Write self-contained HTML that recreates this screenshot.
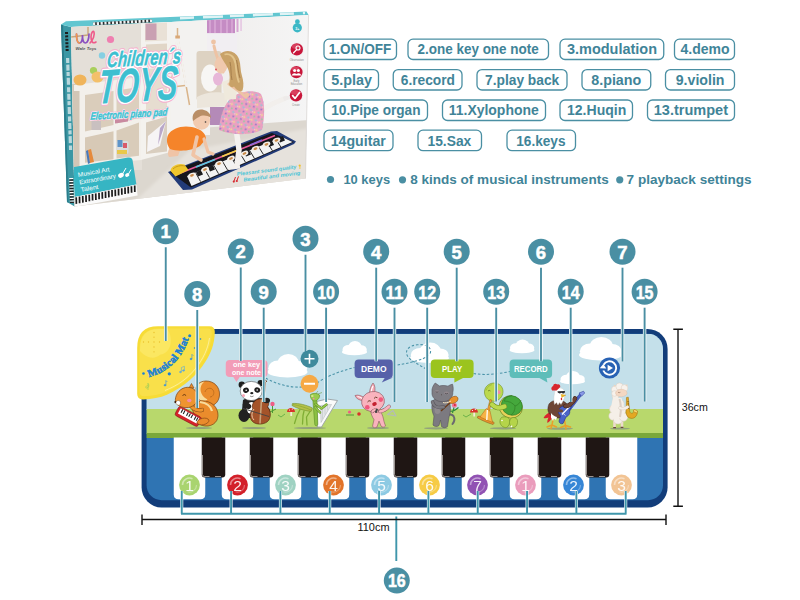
<!DOCTYPE html>
<html><head><meta charset="utf-8"><title>Piano mat</title>
<style>
html,body{margin:0;padding:0;background:#fff;}
body{width:800px;height:600px;overflow:hidden;font-family:"Liberation Sans",sans-serif;}
svg{display:block;position:absolute;left:0;top:0;}
text{font-family:"Liberation Sans",sans-serif;}
.lb{fill:#fff;stroke:#4a8fa3;stroke-width:1.3;}
.lt{fill:#3f8498;font-weight:bold;font-size:14px;}
.nc{fill:#4a8fa3;}
.nt{fill:#fff;stroke:#fff;stroke-width:.5;font-weight:bold;font-size:18.5px;text-anchor:middle;}
.ln{stroke:#4a8fa3;stroke-width:1.9;fill:none;}
.lw{stroke:#fff;stroke-width:3.4;fill:none;}
</style></head><body>
<svg width="800" height="600" viewBox="0 0 800 600">

<defs>
<clipPath id="fc"><polygon points="71,27 308.6,15 305.5,178.5 74.6,206.5"/></clipPath>
<filter id="b1" x="-5%" y="-5%" width="110%" height="110%"><feGaussianBlur stdDeviation="0.7"/></filter>
<filter id="b2" x="-5%" y="-5%" width="110%" height="110%"><feGaussianBlur stdDeviation="1.6"/></filter>
<linearGradient id="wallg" x1="0" x2="1" y1="0" y2="0"><stop offset="0" stop-color="#e9e4dd"/><stop offset=".55" stop-color="#efedec"/><stop offset="1" stop-color="#f6f6f6"/></linearGradient>
<pattern id="skirt" width="8" height="8" patternUnits="userSpaceOnUse" patternTransform="rotate(20)"><rect width="8" height="8" fill="#eba0c2"/><circle cx="1.5" cy="1.5" r="1.1" fill="#8fc6d8"/><circle cx="5.5" cy="2.5" r="1" fill="#f3e08a"/><circle cx="3" cy="5.5" r="1" fill="#9a78c8"/><circle cx="6.8" cy="6.5" r=".9" fill="#8fd09a"/><circle cx="3.6" cy="2.8" r=".7" fill="#f4c8dc"/></pattern>
</defs>
<polygon points="61,24.5 71,27 74.6,206.5 67,202" fill="#3b97a4"/>
<polygon points="61,24.5 63,25 68.6,203 67,202" fill="#2b7d8b"/>
<path d="M67.6 58L70.6 150" stroke="#cfe3e6" stroke-width="3.2" stroke-dasharray="5 1.6 6 1.4 4 1.8 7 2.4" opacity=".85"/>
<path d="M66.5 32L67.2 52" stroke="#1d1d1d" stroke-width="3" stroke-dasharray="2 1.4"/>
<path d="M71.2 178L71.9 203" stroke="#fff" stroke-width="4" stroke-dasharray="1.4 1.4"/><path d="M71.2 178L71.9 203" stroke="#222" stroke-width="4" stroke-dasharray="1.4 1.4" stroke-dashoffset="1.4"/>
<polygon points="61,24.5 66,21.3 306.5,11.5 308.6,15 71,27" fill="#62c6d0"/>
<path d="M93 23.8L152 20.8" stroke="#2a2a2a" stroke-width="2.8"/><path d="M93 23.8L152 20.8" stroke="#eef2f3" stroke-width="2.8" stroke-dasharray="2.2 1.6"/>
<path d="M180 18.2L305 13" stroke="#dff3f5" stroke-width="2.5" stroke-dasharray="14 9 20 7"/>
<g clip-path="url(#fc)">
<rect x="60" y="5" width="260" height="210" fill="url(#wallg)"/>
<polygon points="125,150 200,128 310,120 310,215 70,215 70,180" fill="#dcd7cf"/>
<polygon points="190,150 310,128 310,215 120,215" fill="#e6e2dc" filter="url(#b2)"/>
<rect x="70" y="20" width="72" height="150" fill="#e4dfd8"/>
<polygon points="70,84 80,84 80,168 70,170" fill="#d2c6b6"/>
<rect x="170" y="15" width="40" height="120" fill="#f3f2f0"/>
<g filter="url(#b1)">
<polygon points="141,22 170.5,20.5 170.5,152 141,160" fill="#f4f2ee"/>
<polygon points="74,85 141,77 141,160 79.5,166 79.5,91 74,91" fill="#f3f0eb"/>
<polygon points="145,23.5 167,22.5 167,40.5 145,41.5" fill="#e9e1d6"/>
<polygon points="146,44.5 167,43.5 167,63 146,64.5" fill="#e1d6c7"/>
<polygon points="146,69 167,67.5 167,112 146,116" fill="#e6ddd0"/>
<polygon points="146,122.5 167,116.5 167,151.5 146,154" fill="#d9cebf"/>
<polygon points="85,95 113.5,91 113.5,125 85,131.5" fill="#dacdbb"/>
<polygon points="116.5,90.5 139,87 139,118 116.5,123.5" fill="#dccfbe"/>
<polygon points="85,137.5 113.5,131.3 113.5,159.3 85,162.8" fill="#d7c9b6"/>
<polygon points="116.5,130.4 139,122.5 139,155.8 116.5,158.4" fill="#d9ccba"/>
</g>
<rect x="145.5" y="23.5" width="11" height="16.5" fill="#c9a0b2"/>
<polygon points="148,136 166,121 160,146 147,152" fill="#f6f4f5"/><polygon points="160,128 166,121 158,145" fill="#b9a7c9"/>
<rect x="116.5" y="141" width="12" height="13" rx="2" fill="#d9dcde"/><rect x="117.5" y="140" width="5" height="7" fill="#5f94c8"/><rect x="117" y="150" width="10" height="4" fill="#e8c84a"/><rect x="123" y="143" width="4" height="5" fill="#d85a6a"/>
<polygon points="88,150 91,149 94,162 90,163" fill="#e58a3c"/><polygon points="86,151 88,150 90,163 88,164" fill="#4a78b8"/>
<rect x="91.5" y="121" width="9.5" height="9" fill="#c9c0c0"/><polygon points="115,119.5 128,117.5 128,121.5 115,123.5" fill="#c98aa0"/>
<circle cx="110.5" cy="39.5" r="3.6" fill="#ef7fb0"/><circle cx="102" cy="55.5" r="3.2" fill="#86cfe2"/><circle cx="93.5" cy="70.5" r="3.6" fill="#a9cf5c"/>
<ellipse cx="80" cy="80" rx="6.5" ry="5.5" fill="#f0b45a"/><ellipse cx="97.5" cy="77" rx="6" ry="5.5" fill="#f3c06a"/>
<path d="M71 37l17-2" stroke="#c9a57a" stroke-width="1.6"/><path d="M88 27l0 8" stroke="#c9a57a" stroke-width="1.4"/>
<path d="M177.5 28v9M177.5 37l-9 60M177.5 37l12 68M172 87l13-1.5" stroke="#d9b48a" stroke-width="1.5" fill="none"/><path d="M177.5 37l-9 50M177.5 37l9 50" stroke="#f3f1ee" stroke-width="2.2" fill="none"/><rect x="175.3" y="35.5" width="4.6" height="3" fill="#d9a877"/>
<rect x="207" y="18" width="28" height="15.5" fill="#c58cc4"/><path d="M210 18v15M215 18v15M221 18v15M227 18v15M232 18v15" stroke="#d9a9d6" stroke-width="1.6"/><rect x="236.5" y="18" width="2" height="14" fill="#d8a6d4"/><rect x="240.3" y="18" width="1.5" height="13" fill="#e4c4e2"/>
<rect x="207" y="33" width="30" height="30" fill="#f1eef2" opacity=".8"/>
<g filter="url(#b1)">
<rect x="196.5" y="51" width="25" height="50" rx="3" fill="#ddd2c2"/>
<ellipse cx="210" cy="78" rx="9" ry="13.5" fill="#f7f6f4"/>
<ellipse cx="218" cy="79" rx="5" ry="6.5" fill="#e7b7d8"/>
<path d="M197 97c8-5 22-6 30-3l0 12-30 2z" fill="#ece6dc"/>
<rect x="210" y="107" width="22" height="18" fill="#b48ab8"/>
</g>
<g filter="url(#b1)">
<polygon points="168,172 271,131.5 277,131 296,141.5 294,144 192,189.5 183,190" fill="#223a78"/>
<polygon points="170,172 272,133 294,142 191,187.5" fill="#15161c"/>
<polygon points="187,176 282,137 292.5,142 191.5,186" fill="#f3f3f3"/>
<path d="M195.5 172.5l5 9M204.5 168.8l5 8.8M213.5 165l5 8.7M222.5 161.4l5 8.5M231.5 157.7l5 8.4M240.5 154l5 8.3M249.5 150.3l5 8.2M258.5 146.6l5 8M267.5 143l5 7.8M276 139.5l5 7.7" stroke="#2a2a2a" stroke-width="1" fill="none"/>
<g fill="#1a1a1f"><polygon points="196,172 201,170 203,174.5 198,176.5"/><polygon points="208,167 213,165 215,169.5 210,171.5"/><polygon points="232,157 237,155 239,159.5 234,161.5"/><polygon points="244,152 249,150 251,154.5 246,156.5"/><polygon points="267,142.5 272,140.5 274,145 269,147"/><polygon points="278,138 283,136 285,140.5 280,142.5"/></g>
<path d="M178 174L275 135.5" stroke="#e85a9a" stroke-width="1.6"/><path d="M196 167L215 159.5" stroke="#58c8e0" stroke-width="1.8"/><path d="M222 156.5L238 150" stroke="#f2d34a" stroke-width="1.8"/><path d="M250 145L262 140.2" stroke="#8a6ad8" stroke-width="1.8"/>
<ellipse cx="192" cy="175.3" rx="4" ry="2.5" fill="#f4efe8" transform="rotate(-21 192 175.3)"/><ellipse cx="192" cy="175.3" rx="2" ry="1.2" fill="#c98a4a" transform="rotate(-21 192 175.3)"/>
<ellipse cx="205" cy="169.5" rx="4" ry="2.5" fill="#f4efe8" transform="rotate(-21 205 169.5)"/><ellipse cx="205" cy="169.5" rx="2" ry="1.2" fill="#c98a4a" transform="rotate(-21 205 169.5)"/>
<ellipse cx="219" cy="163.6" rx="4" ry="2.5" fill="#f4efe8" transform="rotate(-21 219 163.6)"/><ellipse cx="219" cy="163.6" rx="2" ry="1.2" fill="#c98a4a" transform="rotate(-21 219 163.6)"/>
<ellipse cx="231" cy="158.5" rx="4" ry="2.5" fill="#f4efe8" transform="rotate(-21 231 158.5)"/><ellipse cx="231" cy="158.5" rx="2" ry="1.2" fill="#c98a4a" transform="rotate(-21 231 158.5)"/>
<ellipse cx="244.5" cy="153.5" rx="4" ry="2.5" fill="#f4efe8" transform="rotate(-21 244.5 153.5)"/><ellipse cx="244.5" cy="153.5" rx="2" ry="1.2" fill="#c98a4a" transform="rotate(-21 244.5 153.5)"/>
<ellipse cx="255.5" cy="148.7" rx="4" ry="2.5" fill="#f4efe8" transform="rotate(-21 255.5 148.7)"/><ellipse cx="255.5" cy="148.7" rx="2" ry="1.2" fill="#c98a4a" transform="rotate(-21 255.5 148.7)"/>
<ellipse cx="266.5" cy="144.3" rx="4" ry="2.5" fill="#f4efe8" transform="rotate(-21 266.5 144.3)"/><ellipse cx="266.5" cy="144.3" rx="2" ry="1.2" fill="#c98a4a" transform="rotate(-21 266.5 144.3)"/>
<ellipse cx="276.5" cy="140.3" rx="4" ry="2.5" fill="#f4efe8" transform="rotate(-21 276.5 140.3)"/><ellipse cx="276.5" cy="140.3" rx="2" ry="1.2" fill="#c98a4a" transform="rotate(-21 276.5 140.3)"/>
<path d="M170.5 171c0-5 8-8.5 14-6.5l4 5.5-13 6.5z" fill="#efc62f"/><path d="M173 169c3-3 8-4 12-3" stroke="#c99a18" stroke-width="1" fill="none"/>
</g>
<g filter="url(#b1)">
<path d="M236 128l3 22-2 15" stroke="#f4f1ee" stroke-width="5.5" fill="none" stroke-linecap="round" stroke-linejoin="round"/>
<path d="M229 167.5c3-2.5 8-3 11-2l0 3-11 1.5z" fill="#f4f1ee"/>
<path d="M252 115l22-12 12-5" stroke="#f2efec" stroke-width="5" fill="none" stroke-linecap="round"/><path d="M283 97c4-2 8-1 10 1l-9 3z" fill="#eeebea"/>
<path d="M232 97c8-6 22-8 29-3 4 8 4 22 1 36-13 6-32 5-43 0 1-14 5-26 13-33z" fill="url(#skirt)"/>
<path d="M222 82l8-3 7 8-1 12-11 1z" fill="#efe9dc"/>
<path d="M223 72c-3-8-7-16-9-26" stroke="#eec3a4" stroke-width="3" fill="none" stroke-linecap="round"/><circle cx="213.5" cy="42" r="2.4" fill="#eec3a4"/>
<path d="M229 84c6 4 12 9 17 13" stroke="#eec3a4" stroke-width="3" fill="none" stroke-linecap="round"/><circle cx="247" cy="95" r="2.3" fill="#eec3a4"/>
<ellipse cx="221" cy="65" rx="6.5" ry="8.5" fill="#f0c9ae"/>
<path d="M220 54c6-5.500 16-3.500 19 5 2 6 1 11 3 17 1.500 5 2 10 .500 14.500-3 2-6.500-.500-8.500-4-1.500 1.500-4 .500-5-2 1-5 1-10-.500-14.500-1.500-5-6-9-8.500-16z" fill="#c9a268"/>
<path d="M224.500 54.500c5-1.500 10 2 11 9 .800 7 1 13 3.500 19" stroke="#e2c48c" stroke-width="1.800" fill="none"/>
<path d="M230 62c1.500 6 .500 12 2 18M236.500 60c1.500 6 1.500 12 3.500 18" stroke="#a67f4c" stroke-width="1" fill="none"/>
<circle cx="216" cy="69.5" r=".9" fill="#d44a5a"/>
</g>
<g filter="url(#b1)">
<path d="M171 146c-3 4-4 8-2 11l9-1 3-8z" fill="#f0c4a6"/>
<path d="M168 135c5-8 18-11 30-6 5 2 8 6 8 10l-6 7c-8 5-22 6-30 3-3-4-4-9-2-14z" fill="#f5842a"/>
<path d="M197 137l-4 18 8 5" stroke="#f0c4a6" stroke-width="3.6" fill="none" stroke-linecap="round" stroke-linejoin="round"/>
<path d="M204 139l4 13 5 2" stroke="#f0c4a6" stroke-width="3.2" fill="none" stroke-linecap="round" stroke-linejoin="round"/>
<ellipse cx="201.5" cy="120.5" rx="8.6" ry="9.2" fill="#f2cbb0"/>
<path d="M193 121c-2-8 4-13 11-11 4 1 7 4 7 8-4-3-9-3-12-1-3 1-4 3-6 4z" fill="#b98e66"/>
<circle cx="205.5" cy="122" r=".8" fill="#333"/>
</g>
<path d="M73 167.3L128 157.6Q132 157 132.6 160.5L136.4 184.6L74.6 197Z" fill="#36b5c3"/>
<polygon points="74.6,197 136.4,184.6 137.6,195.5 74.8,207" fill="#fafafa"/>
<path d="M76.2 197.3L76.4 203.9M79.5 196.6L79.6 203.2M82.7 196.0L82.9 202.6M86.0 195.3L86.1 201.9M89.2 194.7L89.4 201.3M92.5 194.0L92.6 200.6M95.7 193.4L95.9 200.0M99.0 192.7L99.1 199.3M102.2 192.1L102.4 198.7M105.5 191.4L105.6 198.0M108.7 190.8L108.9 197.4M112.0 190.1L112.1 196.7M115.2 189.5L115.4 196.1M118.5 188.8L118.6 195.4M121.7 188.2L121.9 194.8M125.0 187.5L125.1 194.1M128.2 186.8L128.3 193.4M131.4 186.2L131.6 192.8M134.7 185.5L134.8 192.1" stroke="#1c1c1c" stroke-width="1.75"/>
<g transform="rotate(-10 78 175)" fill="#fff" font-size="6.3" style="font-family:'Liberation Sans'"><text x="78" y="177" textLength="32" lengthAdjust="spacingAndGlyphs">Musical Art</text><text x="78" y="184.6" textLength="37" lengthAdjust="spacingAndGlyphs">Extraordinary</text><text x="78" y="192.2" textLength="18" lengthAdjust="spacingAndGlyphs">Talent</text></g>
<g fill="#fff"><ellipse cx="121" cy="175.3" rx="3" ry="2.3" transform="rotate(-30 121 175.3)"/><ellipse cx="127.2" cy="175" rx="2.2" ry="1.8" transform="rotate(-30 127.2 175)"/><path d="M122.5 174l3.5-6M128.5 174l2.5-4.5" stroke="#fff" stroke-width="1"/></g>
<g transform="rotate(-3.2 140 60) translate(140 85) skewX(-8) translate(-140 -85)" style="font-family:'Liberation Sans'" font-style="italic" font-weight="bold" text-anchor="middle">
<g fill="#f5b3cf" stroke="#f5b3cf" stroke-width="5.4" stroke-linejoin="round">
<text x="140.5" y="65.5" font-size="21.5" textLength="74" lengthAdjust="spacingAndGlyphs">Children&#180;s</text>
<text x="137" y="101" font-size="47.5" textLength="79" lengthAdjust="spacingAndGlyphs">TOYS</text>
</g>
<g fill="#fff" stroke="#fff" stroke-width="3.2" stroke-linejoin="round">
<text x="140.5" y="65.5" font-size="21.5" textLength="74" lengthAdjust="spacingAndGlyphs">Children&#180;s</text>
<text x="137" y="101" font-size="47.5" textLength="79" lengthAdjust="spacingAndGlyphs">TOYS</text>
</g>
<g fill="#3ebfd0" stroke="#3ebfd0" stroke-width=".5">
<text x="140.5" y="65.5" font-size="21.5" textLength="74" lengthAdjust="spacingAndGlyphs">Children&#180;s</text>
<text x="137" y="101" font-size="47.5" textLength="79" lengthAdjust="spacingAndGlyphs">TOYS</text>
</g>
<text fill="#f5b3cf" stroke="#f5b3cf" stroke-width="2.6" stroke-linejoin="round" x="130" y="117" font-size="10.5" textLength="77" lengthAdjust="spacingAndGlyphs">Electronic piano pad</text>
<text fill="#fff" stroke="#fff" stroke-width="1.4" stroke-linejoin="round" x="130" y="117" font-size="10.5" textLength="77" lengthAdjust="spacingAndGlyphs">Electronic piano pad</text>
<text fill="#3ebfd0" stroke="#3ebfd0" stroke-width=".5" x="130" y="117" font-size="10.5" textLength="77" lengthAdjust="spacingAndGlyphs">Electronic piano pad</text>
</g>
<g transform="rotate(-7 268 173)" font-style="italic" font-weight="bold" fill="#49c4d6" font-size="5.2"><text x="237" y="172" textLength="60" lengthAdjust="spacingAndGlyphs">Pleasant sound quality</text><text x="243" y="178.5" textLength="57" lengthAdjust="spacingAndGlyphs">Beautiful and moving</text></g>
<path d="M234 181l1.5-4M237 180.4l1.5-4" stroke="#d8262d" stroke-width="1"/><circle cx="233.8" cy="181.6" r="1.1" fill="#d8262d"/><circle cx="236.8" cy="181" r="1.1" fill="#d8262d"/><circle cx="299.7" cy="165.5" r="1.1" fill="#f0c02a"/><path d="M299.9 166v3" stroke="#f0c02a" stroke-width=".8"/>
<path d="M76.5 34c0 6 1 9 3 9s3-4 3-8c0 5 1 8 3 8s3.5-4 3.5-9" stroke="#8a4fc0" stroke-width="1.7" fill="none" stroke-linecap="round"/><path d="M90 43c3-3 5-8 4-11-1-2-3 1-3 5 0 5 2 7 5 5" stroke="#ef5a8a" stroke-width="1.6" fill="none" stroke-linecap="round"/><path d="M76.5 34c0 6 1 9 3 9" stroke="#f2994a" stroke-width="1.7" fill="none" stroke-linecap="round"/>
<text x="75.5" y="50.3" font-size="3.6" font-style="italic" font-weight="bold" fill="#555" textLength="21" lengthAdjust="spacingAndGlyphs">Wale Toys</text>
<circle cx="297.3" cy="27.8" r="4.6" fill="#3cb8c6"/><circle cx="297.4" cy="21.7" r="2.4" fill="#3cb8c6"/><text x="297.3" y="30" font-size="3.6" fill="#fff" text-anchor="middle" font-weight="bold">3+</text>
<circle cx="296.8" cy="49.4" r="7.1" fill="#f1eef0"/><circle cx="296.8" cy="49.4" r="6.2" fill="#c8163a"/><ellipse cx="295.8" cy="46.4" rx="4" ry="2.4" fill="#e8657c" opacity=".55"/>
<circle cx="296.4" cy="72.1" r="7.1" fill="#f1eef0"/><circle cx="296.4" cy="72.1" r="6.2" fill="#c8163a"/><ellipse cx="295.4" cy="69.1" rx="4" ry="2.4" fill="#e8657c" opacity=".55"/>
<circle cx="296.0" cy="95.4" r="7.1" fill="#f1eef0"/><circle cx="296.0" cy="95.4" r="6.2" fill="#c8163a"/><ellipse cx="295.0" cy="92.4" rx="4" ry="2.4" fill="#e8657c" opacity=".55"/>
<circle cx="298" cy="48" r="2" fill="none" stroke="#fff" stroke-width="1.1"/><path d="M296.6 49.6l-3 3.2" stroke="#fff" stroke-width="1.3" stroke-linecap="round"/>
<circle cx="294.6" cy="70.6" r="1.5" fill="#fff"/><circle cx="298.4" cy="70.6" r="1.5" fill="#fff"/><path d="M292 75.5c0-3 5-3 5 0zM296 75.5c0-3 5-3 5 0z" fill="#fff"/>
<path d="M292.6 95.6l2.4 2.8 4.6-6" stroke="#fff" stroke-width="1.7" fill="none" stroke-linecap="round" stroke-linejoin="round"/>
<g fill="#8a8a8a" font-size="2.6" text-anchor="middle"><text x="296.7" y="60.6">Observation</text><text x="296.4" y="82.4">Early</text><text x="296.4" y="85.4">Education</text><text x="295.9" y="106">Create</text></g>
</g>
<path d="M308.6 15L305.5 178.5" stroke="#d9d6d3" stroke-width=".8"/>
<rect class="lb" x="324" y="39.2" width="72.5" height="20.299999999999997" rx="5"/>
<text class="lt" x="328.75" y="54.45" textLength="62.5" lengthAdjust="spacingAndGlyphs">1.ON/OFF</text>
<rect class="lb" x="408" y="39.2" width="140.5" height="20.299999999999997" rx="5"/>
<text class="lt" x="417.5" y="54.45" textLength="121.25" lengthAdjust="spacingAndGlyphs">2.one key one note</text>
<rect class="lb" x="560" y="39.2" width="103.75" height="20.299999999999997" rx="5"/>
<text class="lt" x="567" y="54.45" textLength="90" lengthAdjust="spacingAndGlyphs">3.modulation</text>
<rect class="lb" x="674.5" y="39.2" width="60.0" height="20.299999999999997" rx="5"/>
<text class="lt" x="680.5" y="54.45" textLength="49.0" lengthAdjust="spacingAndGlyphs">4.demo</text>
<rect class="lb" x="324" y="69.6" width="54.5" height="20.400000000000006" rx="5"/>
<text class="lt" x="331.25" y="84.89999999999999" textLength="40.75" lengthAdjust="spacingAndGlyphs">5.play</text>
<rect class="lb" x="393.25" y="69.6" width="68.75" height="20.400000000000006" rx="5"/>
<text class="lt" x="400.75" y="84.89999999999999" textLength="54.25" lengthAdjust="spacingAndGlyphs">6.record</text>
<rect class="lb" x="477" y="69.6" width="90" height="20.400000000000006" rx="5"/>
<text class="lt" x="485" y="84.89999999999999" textLength="74.25" lengthAdjust="spacingAndGlyphs">7.play back</text>
<rect class="lb" x="582" y="69.6" width="68.75" height="20.400000000000006" rx="5"/>
<text class="lt" x="591.25" y="84.89999999999999" textLength="50.0" lengthAdjust="spacingAndGlyphs">8.piano</text>
<rect class="lb" x="665.5" y="69.6" width="69.0" height="20.400000000000006" rx="5"/>
<text class="lt" x="675.75" y="84.89999999999999" textLength="48.75" lengthAdjust="spacingAndGlyphs">9.violin</text>
<rect class="lb" x="324" y="100" width="103.5" height="20.5" rx="5"/>
<text class="lt" x="331.25" y="115.35" textLength="89.25" lengthAdjust="spacingAndGlyphs">10.Pipe organ</text>
<rect class="lb" x="442.5" y="100" width="103.0" height="20.5" rx="5"/>
<text class="lt" x="448.75" y="115.35" textLength="90.0" lengthAdjust="spacingAndGlyphs">11.Xylophone</text>
<rect class="lb" x="560" y="100" width="72.5" height="20.5" rx="5"/>
<text class="lt" x="567" y="115.35" textLength="59.25" lengthAdjust="spacingAndGlyphs">12.Huqin</text>
<rect class="lb" x="647.5" y="100" width="87.0" height="20.5" rx="5"/>
<text class="lt" x="653.75" y="115.35" textLength="74.25" lengthAdjust="spacingAndGlyphs">13.trumpet</text>
<rect class="lb" x="324" y="130.2" width="69" height="20.5" rx="5"/>
<text class="lt" x="330.75" y="145.54999999999998" textLength="55.0" lengthAdjust="spacingAndGlyphs">14guitar</text>
<rect class="lb" x="418" y="130.2" width="63.5" height="20.5" rx="5"/>
<text class="lt" x="427.5" y="145.54999999999998" textLength="43.75" lengthAdjust="spacingAndGlyphs">15.Sax</text>
<rect class="lb" x="507" y="130.2" width="68.5" height="20.5" rx="5"/>
<text class="lt" x="516.25" y="145.54999999999998" textLength="49.25" lengthAdjust="spacingAndGlyphs">16.keys</text>
<circle cx="330.5" cy="179.5" r="3.6" fill="#4a8fa3"/><text class="lt" x="343.4" y="184.2" font-size="13" style="font-size:13.5px" textLength="46.7" lengthAdjust="spacingAndGlyphs">10 keys</text>
<circle cx="402.5" cy="179.8" r="3.6" fill="#4a8fa3"/><text class="lt" x="410.2" y="184.2" style="font-size:13.5px" textLength="198.5" lengthAdjust="spacingAndGlyphs">8 kinds of musical instruments</text>
<circle cx="619.75" cy="179.8" r="3.6" fill="#4a8fa3"/><text class="lt" x="626.6" y="184.2" style="font-size:13.5px" textLength="125" lengthAdjust="spacingAndGlyphs">7 playback settings</text>
<!--MAT-->
<rect x="141.6" y="329" width="526" height="178.4" rx="20" fill="#123d7a"/>
<rect x="146.6" y="333.8" width="516.4" height="166.4" rx="15" fill="#2f74b3"/>
<clipPath id="matc"><rect x="146.6" y="333.8" width="516.4" height="166.4" rx="15"/></clipPath>
<g clip-path="url(#matc)">
<rect x="146" y="334" width="517" height="76" fill="#c4e0ea"/>
<rect x="146" y="409" width="517" height="25" fill="#b8d86c"/>
<rect x="146" y="433" width="517" height="5" fill="#7aa83a"/>
<g fill="#fff"><ellipse cx="287.5" cy="371.94" rx="20.0" ry="5.52"/><ellipse cx="277.9" cy="368.26" rx="9.6" ry="7.82"/><ellipse cx="288.3" cy="363.66" rx="10.8" ry="9.66"/><ellipse cx="298.3" cy="368.26" rx="8.8" ry="7.36"/></g>
<g fill="#fff"><ellipse cx="354.5" cy="351.92" rx="12.5" ry="3.36"/><ellipse cx="348.5" cy="349.68" rx="6.0" ry="4.760000000000001"/><ellipse cx="355.0" cy="346.88" rx="6.75" ry="5.88"/><ellipse cx="361.25" cy="349.68" rx="5.5" ry="4.48"/></g>
<g fill="#fff"><ellipse cx="429.5" cy="358.1" rx="19.5" ry="4.8"/><ellipse cx="420.14" cy="354.9" rx="9.36" ry="6.800000000000001"/><ellipse cx="430.28" cy="350.9" rx="10.530000000000001" ry="8.4"/><ellipse cx="440.03" cy="354.9" rx="8.58" ry="6.4"/></g>
<g fill="#fff"><ellipse cx="522.0" cy="350.03" rx="12.5" ry="3.2399999999999998"/><ellipse cx="516.0" cy="347.87" rx="6.0" ry="4.590000000000001"/><ellipse cx="522.5" cy="345.17" rx="6.75" ry="5.67"/><ellipse cx="528.75" cy="347.87" rx="5.5" ry="4.32"/></g>
<g fill="#fff"><ellipse cx="600.5" cy="354.94" rx="21.5" ry="5.52"/><ellipse cx="590.18" cy="351.26" rx="10.32" ry="7.82"/><ellipse cx="601.36" cy="346.66" rx="11.610000000000001" ry="9.66"/><ellipse cx="612.11" cy="351.26" rx="9.46" ry="7.36"/></g>
<g fill="#fff"><ellipse cx="572.5" cy="381.14" rx="12.5" ry="3.12"/><ellipse cx="566.5" cy="379.06" rx="6.0" ry="4.42"/><ellipse cx="573.0" cy="376.46" rx="6.75" ry="5.46"/><ellipse cx="579.25" cy="379.06" rx="5.5" ry="4.16"/></g>
<path d="M262 376 C275 384 290 388 302 387 M317 383 C330 374 345 370 354.600 367.400 M393 365.600 C400 364.500 405 364 410 362.500 C420 360 428 358 430.500 352.500 C431.500 346 424 344 417 344.800 C409 345.800 405 350 407 355 C409 360 418 364 425 368.500 M473.600 373.500 C485 375.500 498 374 510 371.500" stroke="#4a93a8" stroke-width="1.05" stroke-dasharray="2.5 1.9" fill="none"/>
<rect x="225.75" y="360" width="41.75" height="17" rx="4" fill="#f29cb7"/><path d="M233 376.5L236.5 382L240 376.5z" fill="#f29cb7"/>
<text x="246.5" y="367.3" text-anchor="middle" font-size="6.6" font-weight="bold" fill="#fff" textLength="27" lengthAdjust="spacingAndGlyphs">one key</text>
<text x="246.5" y="374.6" text-anchor="middle" font-size="6.6" font-weight="bold" fill="#fff" textLength="29" lengthAdjust="spacingAndGlyphs">one note</text>
<rect x="354.6" y="359.5" width="38.39999999999998" height="18.5" rx="4" fill="#5661a9"/><path d="M385 377.5L381.75 382.4L393 377.5z" fill="#5661a9"/><text x="373.8" y="372.098" text-anchor="middle" font-size="9.3" font-weight="bold" fill="#fff" textLength="25.4" lengthAdjust="spacingAndGlyphs">DEMO</text>
<rect x="430.75" y="359.5" width="42.85000000000002" height="18.5" rx="4" fill="#9bc41e"/><path d="M454.4 377.5L454.4 382.6L464 377.5z" fill="#9bc41e"/><text x="452.175" y="372.098" text-anchor="middle" font-size="9.3" font-weight="bold" fill="#fff" textLength="20.2" lengthAdjust="spacingAndGlyphs">PLAY</text>
<rect x="509.6" y="359.5" width="42.5" height="18.5" rx="4" fill="#5ebdb9"/><path d="M538.5 377.5L547.4 382.4L546.5 377.5z" fill="#5ebdb9"/><text x="530.85" y="372.098" text-anchor="middle" font-size="9.3" font-weight="bold" fill="#fff" textLength="33.8" lengthAdjust="spacingAndGlyphs">RECORD</text>
<circle cx="309.5" cy="358.75" r="9" fill="#3f8a9c"/><path d="M304.5 358.75h10M309.5 353.75v10" stroke="#fff" stroke-width="1.6"/>
<circle cx="309.5" cy="383.75" r="9" fill="#f6a945"/><path d="M304 383.75h11" stroke="#fff" stroke-width="2"/>
<circle cx="609.500" cy="368" r="10.600" fill="#2862b4"/><path d="M603.600 364.800A6.700 6.700 0 1 1 603.300 370.500" stroke="#fff" stroke-width="1.900" fill="none"/><path d="M599.800 368.200l3.500-4.300 3 4.600z" fill="#fff"/><path d="M607.600 364.700L613 368L607.600 371.300z" fill="#fff"/>
<rect x="290.3" y="411.500" width="1.800" height="4.500" fill="#f3ead8"/><path d="M287 412c0-5.500 8-5.500 8 0z" fill="#d8332b"/><circle cx="289.500" cy="410" r=".6" fill="#fff"/><circle cx="292.300" cy="409" r=".6" fill="#fff"/>
<rect x="473.300" y="412" width="1.800" height="4.500" fill="#f3ead8"/><path d="M470 412.500c0-5.500 8-5.500 8 0z" fill="#d8332b"/><circle cx="472.500" cy="410.500" r=".6" fill="#fff"/><circle cx="475.300" cy="409.500" r=".6" fill="#fff"/>
<circle cx="272.5" cy="404" r="2.2" fill="#ef5d86"/><path d="M272.5 406v7M270 412l6-3" stroke="#4c9a36" stroke-width="1"/>
<circle cx="349.5" cy="412" r="1.6" fill="#ef5d86"/><circle cx="359" cy="414" r="1.8" fill="#d8332b"/><path d="M346 415h8" stroke="#4c9a36" stroke-width="1"/>
<path d="M278 415l3 2 4-3M463 415l3 2 5-3" stroke="#6cb24a" stroke-width="1" fill="none"/>
</g><g>
<path d="M137.200 348Q137.200 326.200 158 326.200H209.500Q214.900 326.200 214.800 332C214.500 345 210.500 353.500 205.500 361.500C197 375 185 386.500 167.500 394.500C160 397.800 152 399.200 143 399.400Q137.200 399.500 137.200 394Z" fill="#f7dc36"/>
<path d="M139.500 349Q139.500 328.500 159 328.500H207.500Q211.800 328.500 211.700 333C211.500 344 207.500 352.500 203 360C195 373 184 383.500 167 391.500C160 394.500 152 396 144.500 396.200Q139.500 396.300 139.500 392Z" fill="#f9e04a"/>
<path d="M209.500 338C208 349 203 359 195.500 368.500C188 378 178 385.500 165 390.500" stroke="#fdf3a8" stroke-width="1" fill="none" opacity=".8"/>
<path d="M140 349Q140 329 159 329h8c3.500 4 4.500 10 3.500 15-1 6-5 10-10 10.500-3 3-8 4-12 2.500-3-1-6-3-8.500-6z" fill="#fbe762"/>
<g fill="#e9bf2c"><circle cx="154" cy="332.500" r=".65"/><circle cx="154" cy="337.200" r=".65"/><circle cx="148.500" cy="342" r=".65"/><circle cx="154" cy="342" r=".65"/><circle cx="159.500" cy="342" r=".65"/><circle cx="143.500" cy="342" r=".65"/><circle cx="154" cy="347" r=".65"/><circle cx="154" cy="351.800" r=".65"/></g>
<path id="mm" d="M147.500 377.500C165 373.500 181.500 361 189 338" fill="none"/>
<text style="font-family:'Liberation Serif',serif" font-weight="bold" font-size="10.300" fill="#1c80d4" stroke="#1c80d4" stroke-width=".55" letter-spacing=".2"><textPath href="#mm" startOffset="1.500">Musical Mat</textPath></text>
<circle cx="143.500" cy="373.500" r="1.300" fill="#1c80d4"/><circle cx="189.700" cy="335.700" r="1.500" fill="#1c80d4"/><circle cx="169.300" cy="373.800" r="1.600" fill="#1c80d4"/><circle cx="200.500" cy="339" r=".8" fill="#1c80d4"/><circle cx="194.500" cy="348" r=".7" fill="#1c80d4"/>
<g fill="#5aa8dc" stroke="#5aa8dc" stroke-width=".6"><ellipse cx="180.500" cy="372" rx="1" ry=".75"/><ellipse cx="183.500" cy="370.500" rx="1" ry=".75"/><path d="M181.400 372v-4.500l3-1.200v4.200" fill="none"/><ellipse cx="165" cy="385.200" rx="1" ry=".75" fill="#3a90d8" stroke="#3a90d8"/><path d="M165.900 385.200v-4.700l1.500 1.500" fill="none" stroke="#3a90d8"/><ellipse cx="191" cy="359" rx="1" ry=".75" fill="#3a90d8" stroke="#3a90d8"/><path d="M191.900 359v-4.700l1.500 1.500" fill="none" stroke="#3a90d8"/></g><path d="M148 383.500c1.500 1.500 1 4-1 4.500s-1.500-2 .500-2.500M148 383v7" stroke="#9ccc5a" stroke-width=".7" fill="none"/>
</g><g clip-path="url(#matc)">
<g stroke-linejoin="round">
<ellipse cx="199" cy="428" rx="13" ry="1.1" fill="#8a9680" opacity=".8"/>
<path d="M196 396c-3-8 2-15 10-15 8 0 14 6 13.500 14-.4 6-4 10-9 11l-6-1z" fill="#ea8c2c" stroke="#7a4414" stroke-width=".7"/>
<path d="M196.500 397c-3-8 1-14.500 8-15.500-4 3-5 8-3 12 1 3 4 5 6 6-2 2-7 2-11-2.500z" fill="#f8dc9c"/>
<path d="M205 392c1-4 6-5 8-2s0 7-3 7" stroke="#b96a1c" stroke-width=".8" fill="none"/>
<path d="M196 402c8-3 18 0 21 8 3 8-1 15-9 16-4 .5-8-1-10-3l-6-14z" fill="#ea8c2c" stroke="#7a4414" stroke-width=".7"/>
<path d="M200 402c6 1 11 4 12 9" stroke="#f8dc9c" stroke-width="2.200" fill="none"/>
<g transform="rotate(28 188 416)"><rect x="175.500" y="411" width="26" height="10.500" rx="2.500" fill="#d4242c" stroke="#7a1016" stroke-width=".5"/><rect x="178" y="412.600" width="21" height="6" fill="#fff"/><path d="M180.300 412.600v3.800M182.800 412.600v3.800M186.500 412.600v3.800M189 412.600v3.800M191.500 412.600v3.800M195.200 412.600v3.800M197.500 412.600v3.800" stroke="#222" stroke-width="1.100"/></g>
<ellipse cx="203" cy="421.500" rx="6" ry="3.200" fill="#ea8c2c" stroke="#7a4414" stroke-width=".6" transform="rotate(-12 203 421.500)"/>
<path d="M190 405c3 4 8 6 12 5" stroke="#7a4414" stroke-width="4.200" fill="none" stroke-linecap="round"/><path d="M190 405c3 4 8 6 12 5" stroke="#ee942f" stroke-width="3.200" fill="none" stroke-linecap="round"/>
<path d="M189 388l2.500-4.500 2.500 4.500z" fill="#ea8c2c" stroke="#7a4414" stroke-width=".6"/>
<path d="M175.500 402c-1-6 3-13 10-14.500 6-1 11 2 12 8 1 6-3 11-9 12-5 .8-9-1-11-3z" fill="#ee942f" stroke="#7a4414" stroke-width=".7"/>
<path d="M175.500 402.500c1-2 3-2.500 4.500-1.500 1 1.500.5 3.500-1 4.500-2-.5-3-1.500-3.500-3z" fill="#fff" stroke="#7a4414" stroke-width=".5"/><circle cx="175.300" cy="402" r="1" fill="#3a1a08"/>
<ellipse cx="189.300" cy="400.500" rx="2.200" ry="1.800" fill="#f58aa8"/>
<path d="M182.500 395.500q1.800-2 3.600 0" stroke="#4a2208" stroke-width=".8" fill="none"/>
</g>
<g>
<ellipse cx="254" cy="428" rx="12" ry="1.100" fill="#8a9680" opacity=".8"/>
<circle cx="241.800" cy="384.800" r="3.200" fill="#1e1e1e"/><circle cx="260.600" cy="383" r="3.100" fill="#1e1e1e"/>
<ellipse cx="244" cy="415.500" rx="5.500" ry="6.500" fill="#222"/><ellipse cx="266" cy="412" rx="4" ry="5.500" fill="#222"/>
<path d="M243 400c4-3 18-3 23 0l2 10-6 8-15 0-5-8z" fill="#222"/>
<ellipse cx="251.500" cy="408" rx="5" ry="6" fill="#fff"/>
<ellipse cx="251.200" cy="391" rx="11" ry="9.600" fill="#fff" stroke="#555" stroke-width=".6"/>
<ellipse cx="246" cy="390.200" rx="3" ry="2.600" fill="#1e1e1e" transform="rotate(-20 246 390.200)"/><ellipse cx="257.300" cy="390" rx="3" ry="2.600" fill="#1e1e1e" transform="rotate(20 257.300 390)"/>
<circle cx="246.200" cy="390.200" r=".8" fill="#fff"/><circle cx="257.200" cy="390" r=".8" fill="#fff"/>
<circle cx="243.500" cy="395.500" r="1.500" fill="#f7a6b8"/><ellipse cx="251.800" cy="393.200" rx="1.600" ry="1.100" fill="#222"/><path d="M250 396q1.800 1.400 3.600 0" stroke="#222" stroke-width=".5" fill="none"/>
<path d="M263.500 381.500l2.400.3-1.600 22-2.600-.2z" fill="#8a4a22"/><path d="M264 380.500c1.500-1 3 0 2.500 1.500" stroke="#6b3313" stroke-width=".9" fill="none"/>
<path d="M255 401c3-3 10-3 13 0 1.500 2 .5 4.500-.5 6 3 3 4 9 1 13.500-3 4-12 5-16 1-3.500-3.500-3-9 .5-12.500-1.500-2-.5-6 2-8z" fill="#a4532a" stroke="#5b2a10" stroke-width=".7"/>
<path d="M254 409c-2.500 3-3 8 0 11" stroke="#e9c9a8" stroke-width="1" fill="none"/><path d="M261.500 399.500l-1.500 24" stroke="#c9a27a" stroke-width="1.600"/>
<path d="M243 408.500l26 8" stroke="#444" stroke-width=".9"/>
<ellipse cx="247" cy="405.500" rx="4.500" ry="3" fill="#222" transform="rotate(30 247 405.500)"/><ellipse cx="266.500" cy="400.500" rx="3.500" ry="2.800" fill="#222"/>
</g>
<g stroke-linejoin="round">
<ellipse cx="310" cy="428" rx="16" ry="1.100" fill="#8a9680" opacity=".8"/>
<path d="M316.500 401.500l10.500-2.500 10.500 1.500-16 26.500-4 0z" fill="#fafafa" stroke="#9aa0a4" stroke-width=".9"/>
<path d="M320.500 405.500l11-1-10.500 18z" fill="#e3e6e8" stroke="#aab0b4" stroke-width=".5"/>
<path d="M322.500 405.300v13.500M325 405v9.500M327.500 404.800v5.500" stroke="#b8bdc0" stroke-width=".5"/>
<path d="M292.500 403.500c6-.5 14 1.500 20 4.500l-1.500 3.500c-7-1-14-3-19-6z" fill="#b5c04a" stroke="#6f8f25" stroke-width=".6"/>
<path d="M293 404.500c6 1 12 3 18 5.500" stroke="#7ea52d" stroke-width=".6" fill="none"/>
<path d="M300 409.500l-3 6-2.500 8M304 411l-1 4.500-.5 8.500M310 411.500l-3.500 5.500.5 8" stroke="#7fae34" stroke-width="1.300" fill="none" stroke-linecap="round"/>
<path d="M312.800 399.500c2-.8 4 .2 4.200 2.500l.800 22c0 2-2.600 2.500-3 .5z" fill="#8cc043" stroke="#5c8f25" stroke-width=".6"/>
<path d="M315.500 404l6 4.500 5-4M315 407l5 5.500" stroke="#5c8f25" stroke-width="2.400" fill="none" stroke-linecap="round"/><path d="M315.500 404l6 4.500 5-4M315 407l5 5.500" stroke="#9acb4d" stroke-width="1.500" fill="none" stroke-linecap="round"/>
<path d="M310.500 394.500c2.500-1.800 7-1.500 9 .5.500 2.500-1.500 5.500-4.500 6-3 .2-5-3-4.500-6.500z" fill="#9acb4d" stroke="#5c8f25" stroke-width=".6"/>
<ellipse cx="312.300" cy="396" rx="1.300" ry="1" fill="#d8ea8a"/><circle cx="313.600" cy="398.600" r=".9" fill="#f48aa0"/>
<path d="M318 394l4-1.500M316 393.500l2-2.500" stroke="#5c8f25" stroke-width=".5"/>
</g>
<g stroke-linejoin="round">
<ellipse cx="378" cy="428" rx="11" ry="1.100" fill="#8a9680" opacity=".8"/>
<path d="M387.500 414.500l5.500-4 3 5.500z" fill="none" stroke="#b4b9bc" stroke-width="1.100"/>
<path d="M369.500 393.500c0-4 1.500-8 3.500-10.500 2 2 2.500 6 1.500 10z" fill="#f7a9b5" stroke="#8a5560" stroke-width=".6"/><path d="M371.300 392c.2-2.500.8-4.500 1.700-6" stroke="#fff" stroke-width="1.200" fill="none"/>
<path d="M364.500 398c-3-2.500-6.500-3.500-9.500-2.500 1 3 4.500 5 8 5z" fill="#f7a9b5" stroke="#8a5560" stroke-width=".6"/><path d="M357.500 396.500c2 .3 4 1.200 5.500 2.500" stroke="#fff" stroke-width="1.100" fill="none"/>
<path d="M370.500 411c3-1.500 8-1.500 10 .5 2 3 3 7 3.500 10l1.500 4.500c-1 1.500-3.500 1.500-4.500 0l-2-5-2 6c-1.500 1.200-3.800.8-4.500-.8l1.500-6.500c-1.800-2.800-3-6-3.500-8.700z" fill="#f9b3bd" stroke="#8a5560" stroke-width=".6"/>
<path d="M380 411.500c3-.5 6.500-2.500 9-5" stroke="#8a5560" stroke-width="3.600" fill="none" stroke-linecap="round"/><path d="M380 411.500c3-.5 6.500-2.500 9-5" stroke="#f9b3bd" stroke-width="2.600" fill="none" stroke-linecap="round"/>
<ellipse cx="373" cy="401.500" rx="11.500" ry="10" fill="#f9b3bd" stroke="#8a5560" stroke-width=".6" transform="rotate(-12 373 401.500)"/>
<circle cx="367.300" cy="407.200" r="2.300" fill="#f0587c"/><circle cx="380.800" cy="399.600" r="2.300" fill="#f0587c"/>
<ellipse cx="374.500" cy="404" rx="2.300" ry="1.900" fill="#c4202f" transform="rotate(-20 374.500 404)"/>
<path d="M367.500 402q1.200-2.200 3.400-.8M374 398.500q1.200-2.200 3.400-.8" stroke="#4a2208" stroke-width=".8" fill="none"/>
<path d="M372.500 411.500c1-1.500 3.500-2 4.500-.5" stroke="#8a5560" stroke-width="3.200" fill="none" stroke-linecap="round"/><path d="M372.500 411.500c1-1.500 3.500-2 4.500-.5" stroke="#f9b3bd" stroke-width="2.200" fill="none" stroke-linecap="round"/><rect x="375.500" y="408.500" width="2" height="4.500" rx=".8" fill="#444" transform="rotate(20 376.500 410.500)"/>
</g>
<g stroke-linejoin="round">
<ellipse cx="436" cy="428.300" rx="12" ry="1.100" fill="#8a9680" opacity=".8"/>
<circle cx="454.400" cy="405.300" r="2.500" fill="#f07a9a"/><circle cx="454.800" cy="405" r="1.100" fill="#d8263a"/><path d="M454 407.500l-1.500 5.500M449.500 411c3 1 6-1 9-3.500" stroke="#2f8a3a" stroke-width="1.100" fill="none"/>
<path d="M444 416c4-2.500 9-2 10 1 1 2.500 0 5-1.500 7" stroke="#6b6970" stroke-width="2" fill="none" stroke-linecap="round"/>
<path d="M433.500 400c4-2 11-2 15 0 2.500 5 2.500 12 .5 17l-1.500 9.500c-1.500 1.500-4.500 1.500-6 0l-1-6.500-1.500 5.500c-1.500 1.500-5 1.200-6-.500l1-9c-2.500-5-3-11-.5-16z" fill="#7c7a80" stroke="#55535a" stroke-width=".6"/>
<ellipse cx="437.500" cy="409.500" rx="3" ry="4.500" fill="#8f8a8e"/>
<path d="M432 392c-.500-3 1-6.500 3.200-9 1.500 1 3 2 4.300 3 3-.800 6-.600 8.500.200 1.300-1 2.800-1.800 4.500-2 .8 2.500 1 5.500.300 8 .5 5-4 9.500-10.500 9.500-6 0-11-4-10.300-9.700z" fill="#7f7d83" stroke="#55535a" stroke-width=".6"/>
<ellipse cx="437" cy="391.500" rx="2.400" ry="1.600" fill="#93898e"/><ellipse cx="446.500" cy="393" rx="2.400" ry="1.600" fill="#93898e"/>
<path d="M435.500 391.800q1.500 1 3 0M445 393.300q1.500 1 3 0" stroke="#3a383c" stroke-width=".6" fill="none"/><path d="M440.800 394.500l1.400 0-.7 1z" fill="#4a3a3a"/>
<path d="M441 411l11-10" stroke="#6b3a14" stroke-width="1.300"/>
<path d="M449.500 403c-1.500-2.500 1-5.500 4-6.500 2.500-.800 4.800.500 4.500 2.500-.500 3-4 5.500-8.500 4z" fill="#e8922c" stroke="#8a4a14" stroke-width=".6"/>
<path d="M443 402.500c2 .800 5 .300 8-1.500" stroke="#f3e2c0" stroke-width="1" fill="none"/>
<path d="M432.500 402c1 4 5 6.500 11 5" stroke="#55535a" stroke-width="3.400" fill="none" stroke-linecap="round"/><path d="M432.500 402c1 4 5 6.500 11 5" stroke="#7c7a80" stroke-width="2.500" fill="none" stroke-linecap="round"/>
</g>
<g stroke-linejoin="round">
<ellipse cx="503" cy="428.300" rx="13" ry="1.100" fill="#8a9680" opacity=".8"/>
<ellipse cx="510.800" cy="407" rx="11.800" ry="11" fill="#e8d25a" stroke="#5a7a1c" stroke-width=".6" transform="rotate(25 510.800 407)"/>
<ellipse cx="511.800" cy="405.500" rx="10.600" ry="9.600" fill="#45a83c" stroke="#2f7a24" stroke-width=".6" transform="rotate(25 511.800 405.500)"/>
<path d="M504 401c5 0 9 2 11 5 3-1 5-3 6-6M515 406c0 4-1 7-4 9M504 401c1-3 4-5 8-5.500" stroke="#2f7a24" stroke-width=".6" fill="none"/>
<path d="M501.500 417.500c3-1.500 7-.500 8 2 .8 3-.500 7-3 8-3 .500-6-2-6.500-5-.300-2 .300-4 1.500-5z" fill="#b5d44a" stroke="#6f8f25" stroke-width=".6"/>
<path d="M511.500 418c2.500-1.200 5.500 0 6 2.500.5 3-1 6.500-3.500 7-2.500.300-4.500-2-4.500-5 0-1.800.8-3.500 2-4.500z" fill="#b5d44a" stroke="#6f8f25" stroke-width=".6"/>
<circle cx="502" cy="420.500" r=".8" fill="#fff"/><circle cx="511.500" cy="426.300" r=".9" fill="#fff"/>
<path d="M484.500 393c-.500-5.500 3.500-9.500 9-10 5.500-.300 9.500 3.500 9.500 8.500 0 5-4 9.500-9 9.800-5 .200-9-3.500-9.500-8.300z" fill="#bcd94e" stroke="#6f8f25" stroke-width=".6"/>
<ellipse cx="499" cy="392.200" rx="1.500" ry="1.900" fill="#f48aa8"/><path d="M488 391q1.200-1.300 2.500 0" stroke="#4a5a14" stroke-width=".6" fill="none"/><path d="M492 384.500c-3 1-5 3-6 6" stroke="#8fae34" stroke-width=".6" fill="none"/>
<path d="M490 399.500l1.800.500-3.500 17-2.500-.500z" fill="#f0a030" stroke="#a8641a" stroke-width=".5"/>
<path d="M477.800 416.300c5-.500 12 2.500 16.500 6.500l-1.200 1.700c-5.500-1.500-12-4.500-15.800-6.700z" fill="#e8922c" stroke="#8a4a14" stroke-width=".5"/>
<path d="M486.300 408.500l-6.300 8.500 12.500 5.500-2.500-11.500z" fill="#f6b245" stroke="#a8641a" stroke-width=".5"/><path d="M487.300 410l-.5 10" stroke="#fff" stroke-width="1.300"/>
<path d="M492 404.500c3 3.500 8 4 12.500 2" stroke="#6f8f25" stroke-width="5.200" fill="none" stroke-linecap="round"/><path d="M492 404.500c3 3.500 8 4 12.500 2" stroke="#bcd94e" stroke-width="4.200" fill="none" stroke-linecap="round"/>
</g>
<g stroke-linejoin="round">
<ellipse cx="560" cy="428.600" rx="13" ry="1.100" fill="#8a9680" opacity=".8"/>
<path d="M551.500 411.500c-3 1-6.500 3.500-8 6.500 2 .5 3.500.2 5-.5-1 2-1.500 4-1 5.500 3-2 5.500-5.500 6.500-9z" fill="#d8262d"/>
<path d="M553.500 416.500l-1.500 8.500m0 0l-5 2m5-2l-1 3.500m1-3.500l4.500 2M564 418l1.500 7.500m0 0l-5 2m5-2l.5 3.500m-.5-3.500l5 1.500" stroke="#e8a02a" stroke-width="1.500" fill="none" stroke-linecap="round"/>
<path d="M549 404c2-3 7-4.500 12-3.500 5 1 8 5 7.500 9.500-.5 5-5.500 8.500-11 8-6-.5-10.500-5-9.500-10.500.200-1.300.500-2.500 1-3.500z" fill="#6e4636" stroke="#3f261c" stroke-width=".5"/>
<path d="M551 413c1.500 2 3.500 3.500 6 4l-1 3-2-1.500-1 2.500-2-3.500z" fill="#fff"/>
<path d="M554.500 393.500c0-3.500 2.500-5.500 5.500-5.500s5 2.500 5 5.500c0 3-1 6-2.500 8.500l-1.500 2.500-1.500-2-1.500 2.500-1.500-2.500-2 2c-.8-3.500-1-7.500 0-11z" fill="#fff" stroke="#c8c8c8" stroke-width=".4"/>
<path d="M552.200 390.500c-1.500-1.500-1-4 1-4.500 0-2 2.500-3 4-1.500 1.500-1 3.500.5 3 2.500l-3.500 3.500z" fill="#d8262d"/>
<path d="M557.500 391.300l7.500-.300-.300 2c-1.200.8-2.500.8-3.300-.2-1 .8-2.800.8-3.700-.2z" fill="#2a2a2e"/>
<path d="M561 394.200l4.800 1-4 2.300z" fill="#f3b81f" stroke="#b8860b" stroke-width=".3"/><path d="M561.200 397.500c1 .5 1.500 1.800.5 2.800-1-.3-1.300-1.800-.5-2.800z" fill="#d8262d"/>
<path d="M566.500 409l13.500-15.500 1.800 1.500-12.500 16.500z" fill="#4a63c8" stroke="#1f2f8a" stroke-width=".5"/>
<path d="M579 393l4.500-1.800 1.200 1.800-3.200 3.300z" fill="#8a9ae8" stroke="#1f2f8a" stroke-width=".5"/>
<path d="M558.500 410.500c1-3 4-5 6.500-4l3-2.500 3.500 2.500-2 4c1 3-1 5.500-3.500 6.500l-3 6.500c-2 .8-4-.5-4-2.500l1.500-5c-1.500-1.500-2.500-3.500-2-5.500z" fill="#4a63c8" stroke="#1f2f8a" stroke-width=".6"/>
<path d="M562 414.500l8-8.500" stroke="#fff" stroke-width="1.300"/><path d="M561 411.500l4.500 4" stroke="#dfe4f8" stroke-width=".8"/>
<path d="M565.500 406c3.500 0 7-3 9.500-7.500" stroke="#3f261c" stroke-width="4.600" fill="none" stroke-linecap="round"/><path d="M565.500 406c3.500 0 7-3 9.500-7.500" stroke="#6e4636" stroke-width="3.600" fill="none" stroke-linecap="round"/>
<path d="M551.500 405.500c2 3 6 5.500 10 5.500" stroke="#6e4636" stroke-width="3" fill="none" stroke-linecap="round"/>
</g>
<g stroke-linejoin="round">
<ellipse cx="620" cy="428.600" rx="10" ry="1" fill="#8a9680" opacity=".8"/>
<path d="M614.500 421v6.500M622 421.500v6" stroke="#ecdccc" stroke-width="2.600"/><path d="M613.200 427.600h2.800M620.600 427.400h2.800" stroke="#6a4a3a" stroke-width="1.300"/>
<g fill="#f5efe8" stroke="#d8ccc0" stroke-width=".5"><circle cx="613" cy="416" r="4.200"/><circle cx="618" cy="419.500" r="4.600"/><circle cx="623.500" cy="417" r="4.200"/><circle cx="613.500" cy="409" r="4"/><circle cx="621.500" cy="410" r="4.600"/><circle cx="616" cy="402" r="3.800"/><circle cx="620.500" cy="403.500" r="3.600"/><circle cx="615.500" cy="396" r="3.400"/></g>
<path d="M613 398h8.500l3 10 0 10-12 1-1.500-12z" fill="#f5efe8"/><path d="M619.500 399c1.500 5 1.800 12 .5 18" stroke="#dccfc4" stroke-width="2" fill="none"/>
<g fill="#f7f2ec" stroke="#d8ccc0" stroke-width=".5"><circle cx="615" cy="389.500" r="3.600"/><circle cx="619.500" cy="386.500" r="3.600"/><circle cx="624.500" cy="388" r="3.400"/><circle cx="614.500" cy="393.500" r="2.800"/></g>
<path d="M614.500 387l-1-2.500 2.200 1zM626.500 386.500l1.500-2-2.600.5z" fill="#f0d4be"/>
<ellipse cx="621.300" cy="393" rx="5.800" ry="3.700" fill="#f3d7c2" stroke="#dcbca4" stroke-width=".4"/><path d="M618 392.300q1.200.8 2.400 0" stroke="#7a5a4a" stroke-width=".5" fill="none"/>
<path d="M626.500 397.500l1.800-.300 1.300 13.500c.300 3 3 3.500 4 1l.5-2 3.200 1.500c.5 4-2.500 7.500-6 7.200-3-.300-5-2.500-5.300-6z" fill="#e3a822" stroke="#9a6a0c" stroke-width=".5"/>
<ellipse cx="635.500" cy="411.200" rx="2.300" ry="1.300" fill="#f8d56a" stroke="#9a6a0c" stroke-width=".4" transform="rotate(25 635.500 411.200)"/>
<path d="M628 401l.8 8" stroke="#5a3a0a" stroke-width="1" stroke-dasharray=".8 1"/>
<path d="M620 408c2.500 1 5.500.5 7.500-1" stroke="#d8ccc0" stroke-width="3.200" fill="none" stroke-linecap="round"/><path d="M620 408c2.500 1 5.500.5 7.500-1" stroke="#f5efe8" stroke-width="2.400" fill="none" stroke-linecap="round"/>
</g>
</g>
<path d="M173.75 437.5 h31.5 v57 q0 4.8 -4.8 4.8 h-21.9 q-4.8 0 -4.8 -4.8 z" fill="#fff"/>
<path d="M221.75 437.5 h31.5 v57 q0 4.8 -4.8 4.8 h-21.9 q-4.8 0 -4.8 -4.8 z" fill="#fff"/>
<path d="M269.75 437.5 h31.5 v57 q0 4.8 -4.8 4.8 h-21.9 q-4.8 0 -4.8 -4.8 z" fill="#fff"/>
<path d="M317.75 437.5 h31.5 v57 q0 4.8 -4.8 4.8 h-21.9 q-4.8 0 -4.8 -4.8 z" fill="#fff"/>
<path d="M365.75 437.5 h31.5 v57 q0 4.8 -4.8 4.8 h-21.9 q-4.8 0 -4.8 -4.8 z" fill="#fff"/>
<path d="M413.75 437.5 h31.5 v57 q0 4.8 -4.8 4.8 h-21.9 q-4.8 0 -4.8 -4.8 z" fill="#fff"/>
<path d="M461.75 437.5 h31.5 v57 q0 4.8 -4.8 4.8 h-21.9 q-4.8 0 -4.8 -4.8 z" fill="#fff"/>
<path d="M509.75 437.5 h31.5 v57 q0 4.8 -4.8 4.8 h-21.9 q-4.8 0 -4.8 -4.8 z" fill="#fff"/>
<path d="M557.75 437.5 h31.5 v57 q0 4.8 -4.8 4.8 h-21.9 q-4.8 0 -4.8 -4.8 z" fill="#fff"/>
<path d="M605.75 437.5 h31.5 v57 q0 4.8 -4.8 4.8 h-21.9 q-4.8 0 -4.8 -4.8 z" fill="#fff"/>
<path d="M201.75 437.5h23.5v37q0 3-3 3h-17.5q-3 0-3-3z" fill="#1f1614"/>
<path d="M202.5 455v19.5q0 2 2 2h5M215 476.5h6" stroke="#a8a29e" stroke-width=".9" fill="none"/>
<path d="M249.75 437.5h23.5v37q0 3-3 3h-17.5q-3 0-3-3z" fill="#1f1614"/>
<path d="M250.5 455v19.5q0 2 2 2h5M263 476.5h6" stroke="#a8a29e" stroke-width=".9" fill="none"/>
<path d="M297.75 437.5h23.5v37q0 3-3 3h-17.5q-3 0-3-3z" fill="#1f1614"/>
<path d="M298.5 455v19.5q0 2 2 2h5M311 476.5h6" stroke="#a8a29e" stroke-width=".9" fill="none"/>
<path d="M345.75 437.5h23.5v37q0 3-3 3h-17.5q-3 0-3-3z" fill="#1f1614"/>
<path d="M346.5 455v19.5q0 2 2 2h5M359 476.5h6" stroke="#a8a29e" stroke-width=".9" fill="none"/>
<path d="M393.75 437.5h23.5v37q0 3-3 3h-17.5q-3 0-3-3z" fill="#1f1614"/>
<path d="M394.5 455v19.5q0 2 2 2h5M407 476.5h6" stroke="#a8a29e" stroke-width=".9" fill="none"/>
<path d="M441.75 437.5h23.5v37q0 3-3 3h-17.5q-3 0-3-3z" fill="#1f1614"/>
<path d="M442.5 455v19.5q0 2 2 2h5M455 476.5h6" stroke="#a8a29e" stroke-width=".9" fill="none"/>
<path d="M489.75 437.5h23.5v37q0 3-3 3h-17.5q-3 0-3-3z" fill="#1f1614"/>
<path d="M490.5 455v19.5q0 2 2 2h5M503 476.5h6" stroke="#a8a29e" stroke-width=".9" fill="none"/>
<path d="M537.75 437.5h23.5v37q0 3-3 3h-17.5q-3 0-3-3z" fill="#1f1614"/>
<path d="M538.5 455v19.5q0 2 2 2h5M551 476.5h6" stroke="#a8a29e" stroke-width=".9" fill="none"/>
<path d="M585.75 437.5h23.5v37q0 3-3 3h-17.5q-3 0-3-3z" fill="#1f1614"/>
<path d="M586.5 455v19.5q0 2 2 2h5M599 476.5h6" stroke="#a8a29e" stroke-width=".9" fill="none"/>
<circle cx="189.5" cy="485" r="10.4" fill="#a9d46f"/><path d="M182.5 485a7 7 0 0 1 10-6.3" stroke="#fff" stroke-width="1.6" fill="none" opacity=".45"/><path d="M196.5 485a7 7 0 0 1 -9 6.7" stroke="#fff" stroke-width="1.2" fill="none" opacity=".3"/>
<text x="189.5" y="490.6" text-anchor="middle" font-size="15.5" fill="#fff" opacity=".92">1</text>
<circle cx="237.5" cy="485" r="10.4" fill="#d3202a"/><path d="M230.5 485a7 7 0 0 1 10-6.3" stroke="#fff" stroke-width="1.6" fill="none" opacity=".45"/><path d="M244.5 485a7 7 0 0 1 -9 6.7" stroke="#fff" stroke-width="1.2" fill="none" opacity=".3"/>
<text x="237.5" y="490.6" text-anchor="middle" font-size="15.5" fill="#fff" opacity=".92">2</text>
<circle cx="285.5" cy="485" r="10.4" fill="#9fd2c2"/><path d="M278.5 485a7 7 0 0 1 10-6.3" stroke="#fff" stroke-width="1.6" fill="none" opacity=".45"/><path d="M292.5 485a7 7 0 0 1 -9 6.7" stroke="#fff" stroke-width="1.2" fill="none" opacity=".3"/>
<text x="285.5" y="490.6" text-anchor="middle" font-size="15.5" fill="#fff" opacity=".92">3</text>
<circle cx="333.5" cy="485" r="10.4" fill="#e2742a"/><path d="M326.5 485a7 7 0 0 1 10-6.3" stroke="#fff" stroke-width="1.6" fill="none" opacity=".45"/><path d="M340.5 485a7 7 0 0 1 -9 6.7" stroke="#fff" stroke-width="1.2" fill="none" opacity=".3"/>
<text x="333.5" y="490.6" text-anchor="middle" font-size="15.5" fill="#fff" opacity=".92">4</text>
<circle cx="381.5" cy="485" r="10.4" fill="#8dcae3"/><path d="M374.5 485a7 7 0 0 1 10-6.3" stroke="#fff" stroke-width="1.6" fill="none" opacity=".45"/><path d="M388.5 485a7 7 0 0 1 -9 6.7" stroke="#fff" stroke-width="1.2" fill="none" opacity=".3"/>
<text x="381.5" y="490.6" text-anchor="middle" font-size="15.5" fill="#fff" opacity=".92">5</text>
<circle cx="429.5" cy="485" r="10.4" fill="#f6cb45"/><path d="M422.5 485a7 7 0 0 1 10-6.3" stroke="#fff" stroke-width="1.6" fill="none" opacity=".45"/><path d="M436.5 485a7 7 0 0 1 -9 6.7" stroke="#fff" stroke-width="1.2" fill="none" opacity=".3"/>
<text x="429.5" y="490.6" text-anchor="middle" font-size="15.5" fill="#fff" opacity=".92">6</text>
<circle cx="477.5" cy="485" r="10.4" fill="#9152b3"/><path d="M470.5 485a7 7 0 0 1 10-6.3" stroke="#fff" stroke-width="1.6" fill="none" opacity=".45"/><path d="M484.5 485a7 7 0 0 1 -9 6.7" stroke="#fff" stroke-width="1.2" fill="none" opacity=".3"/>
<text x="477.5" y="490.6" text-anchor="middle" font-size="15.5" fill="#fff" opacity=".92">7</text>
<circle cx="525.5" cy="485" r="10.4" fill="#ea9cbc"/><path d="M518.5 485a7 7 0 0 1 10-6.3" stroke="#fff" stroke-width="1.6" fill="none" opacity=".45"/><path d="M532.5 485a7 7 0 0 1 -9 6.7" stroke="#fff" stroke-width="1.2" fill="none" opacity=".3"/>
<text x="525.5" y="490.6" text-anchor="middle" font-size="15.5" fill="#fff" opacity=".92">1</text>
<circle cx="573.5" cy="485" r="10.4" fill="#3686d6"/><path d="M566.5 485a7 7 0 0 1 10-6.3" stroke="#fff" stroke-width="1.6" fill="none" opacity=".45"/><path d="M580.5 485a7 7 0 0 1 -9 6.7" stroke="#fff" stroke-width="1.2" fill="none" opacity=".3"/>
<text x="573.5" y="490.6" text-anchor="middle" font-size="15.5" fill="#fff" opacity=".92">2</text>
<circle cx="621.5" cy="485" r="10.4" fill="#f2c494"/><path d="M614.5 485a7 7 0 0 1 10-6.3" stroke="#fff" stroke-width="1.6" fill="none" opacity=".45"/><path d="M628.5 485a7 7 0 0 1 -9 6.7" stroke="#fff" stroke-width="1.2" fill="none" opacity=".3"/>
<text x="621.5" y="490.6" text-anchor="middle" font-size="15.5" fill="#fff" opacity=".92">3</text>
<path d="M181.75 491V513.75M231.08 491V513.75M280.41 491V513.75M329.74 491V513.75M379.07 491V513.75M428.40 491V513.75M477.73 491V513.75M527.06 491V513.75M576.39 491V513.75M625.72 491V513.75M181 513.75H626.5M396.3 516.5V561" stroke="#fff" stroke-width="3" fill="none"/><path d="M181.75 491V513.75M231.08 491V513.75M280.41 491V513.75M329.74 491V513.75M379.07 491V513.75M428.40 491V513.75M477.73 491V513.75M527.06 491V513.75M576.39 491V513.75M625.72 491V513.75M181 513.75H626.5M396.3 516.5V561" stroke="#3f96ab" stroke-width="1.9" fill="none"/>
<path d="M142 519.5H666M142 514.5v10.5M666 514.5v10.5M678 329V506.5M673.3 329.3h9.6M673.3 506.3h9.6" stroke="#111" stroke-width="1.4" fill="none"/>
<text x="357.5" y="531.2" font-size="11.5" fill="#111" textLength="32" lengthAdjust="spacingAndGlyphs">110cm</text>
<text x="681.8" y="411.3" font-size="11" fill="#111" textLength="26" lengthAdjust="spacingAndGlyphs">36cm</text>
<path class="lw" d="M165.75 247.25V341"/><path class="ln" d="M165.75 247.25V341"/>
<path class="lw" d="M240.75 267.5V361"/><path class="ln" d="M240.75 267.5V361"/>
<path class="lw" d="M305.5 254.75V351"/><path class="ln" d="M305.5 254.75V351"/>
<path class="lw" d="M376.2 267.7V361.25"/><path class="ln" d="M376.2 267.7V361.25"/>
<path class="lw" d="M456.7 267.7V361.25"/><path class="ln" d="M456.7 267.7V361.25"/>
<path class="lw" d="M541 267.7V361.25"/><path class="ln" d="M541 267.7V361.25"/>
<path class="lw" d="M622.5 267.7V361.5"/><path class="ln" d="M622.5 267.7V361.5"/>
<path class="lw" d="M197.25 310V408"/><path class="ln" d="M197.25 310V408"/>
<path class="lw" d="M263.7 307.7V402"/><path class="ln" d="M263.7 307.7V402"/>
<path class="lw" d="M326.1 307.7V402"/><path class="ln" d="M326.1 307.7V402"/>
<path class="lw" d="M394.5 307.7V402"/><path class="ln" d="M394.5 307.7V402"/>
<path class="lw" d="M427.2 307.7V402"/><path class="ln" d="M427.2 307.7V402"/>
<path class="lw" d="M496.2 307.7V401.5"/><path class="ln" d="M496.2 307.7V401.5"/>
<path class="lw" d="M570.7 307.7V402"/><path class="ln" d="M570.7 307.7V402"/>
<path class="lw" d="M644.6 307.7V401.6"/><path class="ln" d="M644.6 307.7V401.6"/>
<circle class="nc" cx="165.75" cy="231.25" r="13"/>
<text class="nt" x="165.75" y="238.05">1</text>
<circle class="nc" cx="240.75" cy="251.5" r="13"/>
<text class="nt" x="240.75" y="258.3">2</text>
<circle class="nc" cx="305.5" cy="238.75" r="13"/>
<text class="nt" x="305.5" y="245.55">3</text>
<circle class="nc" cx="376.2" cy="251.7" r="13"/>
<text class="nt" x="376.2" y="258.5">4</text>
<circle class="nc" cx="456.7" cy="251.7" r="13"/>
<text class="nt" x="456.7" y="258.5">5</text>
<circle class="nc" cx="541" cy="251.7" r="13"/>
<text class="nt" x="541" y="258.5">6</text>
<circle class="nc" cx="622.5" cy="251.7" r="13"/>
<text class="nt" x="622.5" y="258.5">7</text>
<circle class="nc" cx="197.25" cy="294" r="13"/>
<text class="nt" x="197.25" y="300.8">8</text>
<circle class="nc" cx="263.7" cy="291.7" r="13"/>
<text class="nt" x="263.7" y="298.5">9</text>
<circle class="nc" cx="326.1" cy="291.7" r="13"/>
<text class="nt" x="326.1" y="298.5" textLength="17.8" lengthAdjust="spacingAndGlyphs">10</text>
<circle class="nc" cx="394.5" cy="291.7" r="13"/>
<text class="nt" x="394.5" y="298.5" textLength="17.8" lengthAdjust="spacingAndGlyphs">11</text>
<circle class="nc" cx="427.2" cy="291.7" r="13"/>
<text class="nt" x="427.2" y="298.5" textLength="17.8" lengthAdjust="spacingAndGlyphs">12</text>
<circle class="nc" cx="496.2" cy="291.7" r="13"/>
<text class="nt" x="496.2" y="298.5" textLength="17.8" lengthAdjust="spacingAndGlyphs">13</text>
<circle class="nc" cx="570.7" cy="291.7" r="13"/>
<text class="nt" x="570.7" y="298.5" textLength="17.8" lengthAdjust="spacingAndGlyphs">14</text>
<circle class="nc" cx="644.6" cy="291.7" r="13"/>
<text class="nt" x="644.6" y="298.5" textLength="17.8" lengthAdjust="spacingAndGlyphs">15</text>
<circle class="nc" cx="396.8" cy="580.6" r="13"/>
<text class="nt" x="396.8" y="587.4" textLength="17.8" lengthAdjust="spacingAndGlyphs">16</text>
</svg></body></html>
